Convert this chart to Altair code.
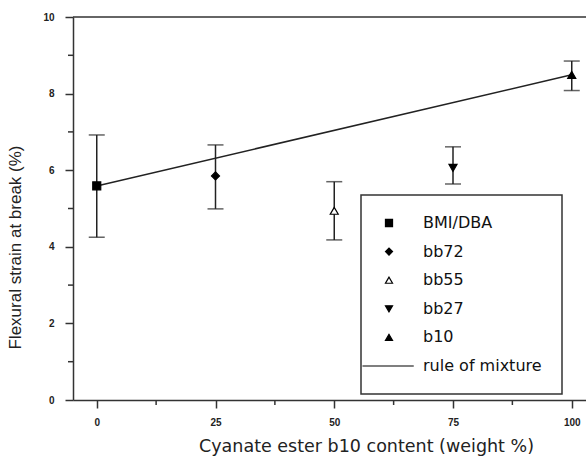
import altair as alt
import pandas as pd

series = ["BMI/DBA", "bb72", "bb55", "bb27", "b10"]
content = [0, 25, 50, 75, 100]
strain = [5.59, 5.85, 4.94, 6.06, 8.49]
err_low = [4.25, 4.99, 4.18, 5.64, 8.08]
err_high = [6.92, 6.66, 5.70, 6.61, 8.85]

rule_x = [0, 100]
rule_y = [5.59, 8.49]

x_major = [0, 25, 50, 75, 100]
x_minor = [12.5, 37.5, 62.5, 87.5]
y_major = [0, 2, 4, 6, 8, 10]
y_minor = [1, 3, 5, 7, 9]

legend_domain = series + ["rule of mixture"]
shape_range = ["square", "diamond", "triangle-up", "triangle-down", "triangle-up", "M-7.5,0H7"]
fill_range = ["black", "black", "white", "black", "black", "transparent"]
stroke_range = ["black"] * 6

df = pd.DataFrame({"series": series, "content": content, "strain": strain,
                   "lo": err_low, "hi": err_high})
line_df = pd.DataFrame({"content": rule_x, "strain": rule_y})
minx_df = pd.DataFrame({"mv": x_minor, "mb": [0.0] * len(x_minor)})
miny_df = pd.DataFrame({"nv": y_minor, "nb": [-5.0] * len(y_minor)})

FONT = "Liberation Sans"
LFONT = "DejaVu Sans"
xscale = alt.Scale(domain=[-5, 103], nice=False, zero=False)
yscale = alt.Scale(domain=[0, 10], nice=False)

xaxis = alt.Axis(title="Cyanate ester b10 content (weight %)", values=x_major,
                 grid=False, tickSize=8, tickWidth=1.5, tickColor="#333", domainColor="#333",
                 domainWidth=1.5, labelFont=FONT, labelFontWeight="bold", labelFontSize=10,
                 labelColor="#222", labelPadding=9, titleFont=LFONT, titleFontSize=17.5,
                 titleFontWeight="normal", titleColor="#222", titlePadding=10, titleX=293)
yaxis = alt.Axis(title="Flexural strain at break (%)", values=y_major,
                 grid=False, tickSize=8, tickWidth=1.5, tickColor="#333", domainColor="#333",
                 domainWidth=1.5, labelFont=FONT, labelFontWeight="bold", labelFontSize=10,
                 labelColor="#222", labelPadding=11, titleFont=FONT, titleFontSize=17,
                 titleFontWeight="normal", titleColor="#222", titlePadding=18, titleY=230)

base = alt.Chart(df)

errbar = base.mark_rule(color="#222", strokeWidth=1.5).encode(
    x=alt.X("content:Q", scale=xscale, axis=xaxis),
    y=alt.Y("lo:Q", scale=yscale, axis=yaxis),
    y2="hi:Q",
)
cap_lo = base.mark_tick(orient="horizontal", color="#222", size=16, thickness=1.5).encode(
    x=alt.X("content:Q", scale=xscale), y=alt.Y("lo:Q", scale=yscale))
cap_hi = base.mark_tick(orient="horizontal", color="#222", size=16, thickness=1.5).encode(
    x=alt.X("content:Q", scale=xscale), y=alt.Y("hi:Q", scale=yscale))

line = alt.Chart(line_df).mark_line(color="#222", strokeWidth=1.5).encode(
    x=alt.X("content:Q", scale=xscale), y=alt.Y("strain:Q", scale=yscale))

legend = alt.Legend(title=None, orient="none", legendX=288, legendY=178,
                    strokeColor="#333", padding=20, fillColor="white",
                    labelFont=LFONT, labelFontSize=16, labelColor="#111", labelOffset=26,
                    symbolSize=50, symbolStrokeColor="black", symbolStrokeWidth=1.2,
                    rowPadding=12.6, labelLimit=300)

points = base.mark_point(filled=False, size=64, strokeWidth=1.2, opacity=1).encode(
    x=alt.X("content:Q", scale=xscale),
    y=alt.Y("strain:Q", scale=yscale),
    shape=alt.Shape("series:N", scale=alt.Scale(domain=legend_domain, range=shape_range), legend=legend),
    fill=alt.Fill("series:N", scale=alt.Scale(domain=legend_domain, range=fill_range), legend=legend),
    stroke=alt.Stroke("series:N", scale=alt.Scale(domain=legend_domain, range=stroke_range), legend=legend),
)

top = alt.Chart(pd.DataFrame({"y": [10]})).mark_rule(color="#333", strokeWidth=1.5).encode(
    y=alt.Y("y:Q", scale=yscale))

mx = alt.Chart(minx_df).mark_point(
    shape="M0,0V1", size=100, filled=False, stroke="#333", strokeWidth=1.5, opacity=1).encode(
    x=alt.X("mv:Q", scale=xscale), y=alt.Y("mb:Q", scale=yscale))
my = alt.Chart(miny_df).mark_point(
    shape="M0,0H-1", size=100, filled=False, stroke="#333", strokeWidth=1.5, opacity=1).encode(
    y=alt.Y("nv:Q", scale=yscale), x=alt.X("nb:Q", scale=xscale))

chart = alt.layer(top, errbar, cap_lo, cap_hi, line, mx, my, points).properties(
    width=513, height=383,
    autosize=alt.AutoSizeParams(type="none"),
    padding={"left": 73, "top": 17, "right": 0, "bottom": 59},
).configure_view(stroke=None).configure_legend(strokeWidth=1.5)

chart.save("out.html", embed_options={"renderer": "svg", "actions": False})
